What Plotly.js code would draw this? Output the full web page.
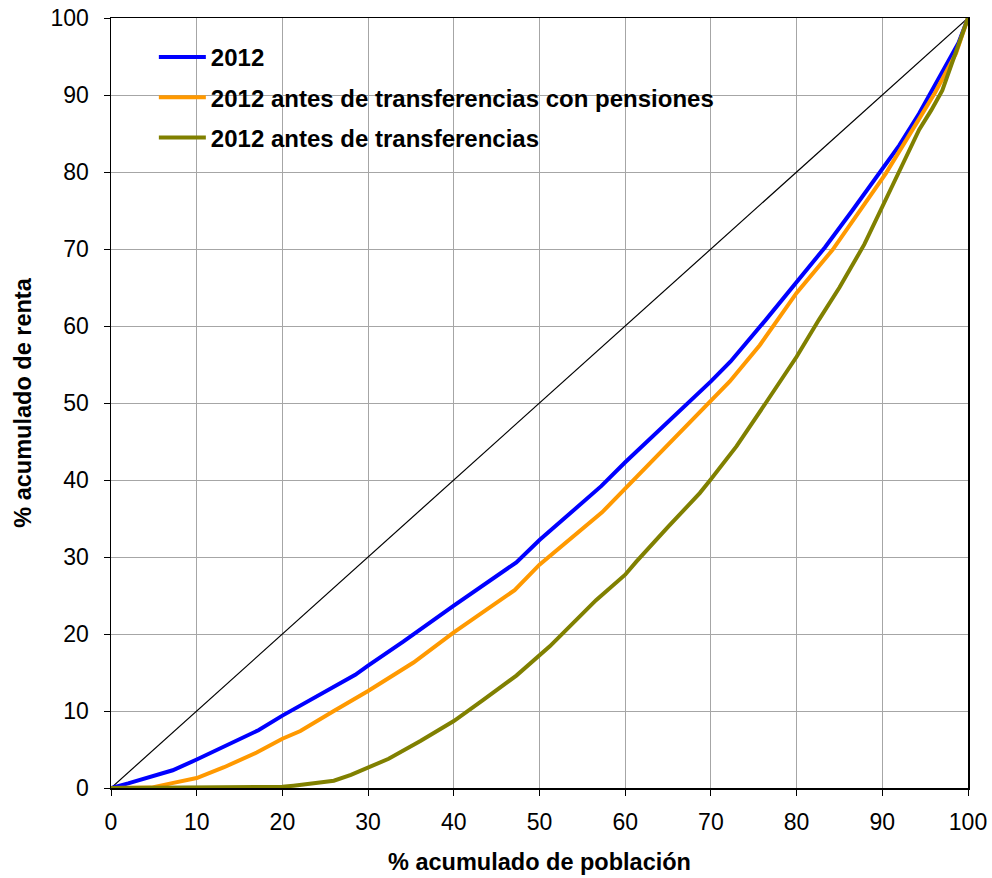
<!DOCTYPE html>
<html>
<head>
<meta charset="utf-8">
<script src="https://cdn.plot.ly/plotly-3.0.1.min.js"></script>
<style>html,body{margin:0;padding:0;background:#fff;}#chart{width:992px;height:878px;}</style>
</head>
<body>
<div id="chart"></div>
<script>
const seriesNames = ["2012", "2012 antes de transferencias con pensiones", "2012 antes de transferencias"];
const seriesColors = ["#0000ff", "#ff9900", "#808000"];

const blueX = [0, 2, 7.2, 10, 17.2, 20, 28.5, 30, 34.1, 40, 47.3, 50, 57.2, 60, 70, 72.3, 76.4, 80, 83.3, 86.5, 89.6, 92, 94.3, 96.2, 98.9, 100];
const blueY = [0, 0.6, 2.3, 3.7, 7.5, 9.4, 14.7, 15.9, 19.0, 23.7, 29.3, 32.2, 39.2, 42.3, 52.8, 55.4, 60.8, 65.6, 70.2, 75.0, 79.9, 83.5, 87.6, 91.4, 96.8, 100];

const orangeX = [0, 4.7, 7, 10, 13.2, 17, 20, 22.1, 26, 30, 35.3, 40, 47.1, 50, 57.3, 60, 62, 70, 72.2, 75.7, 80, 84.2, 87, 90.4, 94.3, 96.2, 98.6, 100];
const orangeY = [0, 0.05, 0.6, 1.3, 2.7, 4.6, 6.4, 7.4, 10.0, 12.6, 16.3, 20.2, 25.7, 29.0, 35.8, 38.9, 41.2, 50.2, 52.8, 57.5, 64.3, 69.9, 74.4, 79.8, 86.9, 90.4, 95.4, 100];

const oliveX = [0, 10, 20, 21.3, 23.5, 26, 28, 30, 32.4, 36.1, 40, 43.4, 47.3, 51.2, 56.6, 60, 61.3, 65, 68.7, 70, 73, 76.4, 80, 82.6, 85, 87.9, 90.4, 92.5, 94.3, 95.7, 97, 99, 100];
const oliveY = [0, 0.05, 0.15, 0.3, 0.55, 0.95, 1.7, 2.7, 3.8, 6.1, 8.7, 11.4, 14.6, 18.4, 24.4, 27.7, 29.4, 33.9, 38.3, 40.1, 44.4, 50.0, 56.0, 60.8, 65.0, 70.6, 76.3, 81.3, 85.5, 88.0, 90.6, 96.7, 100];

const diagX = [0, 100];
const diagY = [0, 100];

const xTicks = [0, 10, 20, 30, 40, 50, 60, 70, 80, 90, 100];
const yTicks = [0, 10, 20, 30, 40, 50, 60, 70, 80, 90, 100];

const FONT = "Arial, 'Liberation Sans', sans-serif";

const traces = [
  {x: diagX, y: diagY, mode: "lines", line: {color: "#000000", width: 1.2}, showlegend: false, hoverinfo: "skip"},
  {x: blueX, y: blueY, mode: "lines", name: seriesNames[0], line: {color: seriesColors[0], width: 4}, legendgroup: "a"},
  {x: orangeX, y: orangeY, mode: "lines", name: seriesNames[1], line: {color: seriesColors[1], width: 4}, legendgroup: "b"},
  {x: oliveX, y: oliveY, mode: "lines", name: seriesNames[2], line: {color: seriesColors[2], width: 4}, legendgroup: "c"}
];

const axisCommon = {
  range: [0, 100],
  ticks: "outside",
  ticklen: 6,
  tickwidth: 1,
  tickcolor: "#000",
  showgrid: true,
  gridcolor: "#a6a6a6",
  gridwidth: 1,
  showline: true,
  linecolor: "#000",
  linewidth: 1.5,
  mirror: true,
  zeroline: false,
  tickfont: {family: FONT, size: 23, color: "#000"}
};

const layout = {
  width: 992,
  height: 878,
  margin: {l: 111, r: 24, t: 18, b: 90},
  paper_bgcolor: "#fff",
  plot_bgcolor: "#fff",
  font: {family: FONT, color: "#000"},
  showlegend: true,
  legend: {
    x: 0.05, y: 0.978, xanchor: "left", yanchor: "top",
    bgcolor: "rgba(0,0,0,0)",
    font: {family: FONT, size: 24, color: "#000", weight: "bold"},
    traceorder: "grouped",
    tracegroupgap: 6,
    itemwidth: 47
  },
  xaxis: Object.assign({}, axisCommon, {
    tickvals: xTicks,
    ticklabelstandoff: 7,
    title: {text: "<b>% acumulado de población</b>", font: {family: FONT, size: 23.5, color: "#000"}, standoff: 19}
  }),
  yaxis: Object.assign({}, axisCommon, {
    tickvals: yTicks,
    ticklabelstandoff: 10,
    title: {text: "<b>% acumulado de renta</b>", font: {family: FONT, size: 23.5, color: "#000"}, standoff: 12}
  })
};

Plotly.newPlot("chart", traces, layout, {displayModeBar: false, staticPlot: true});
</script>
</body>
</html>
